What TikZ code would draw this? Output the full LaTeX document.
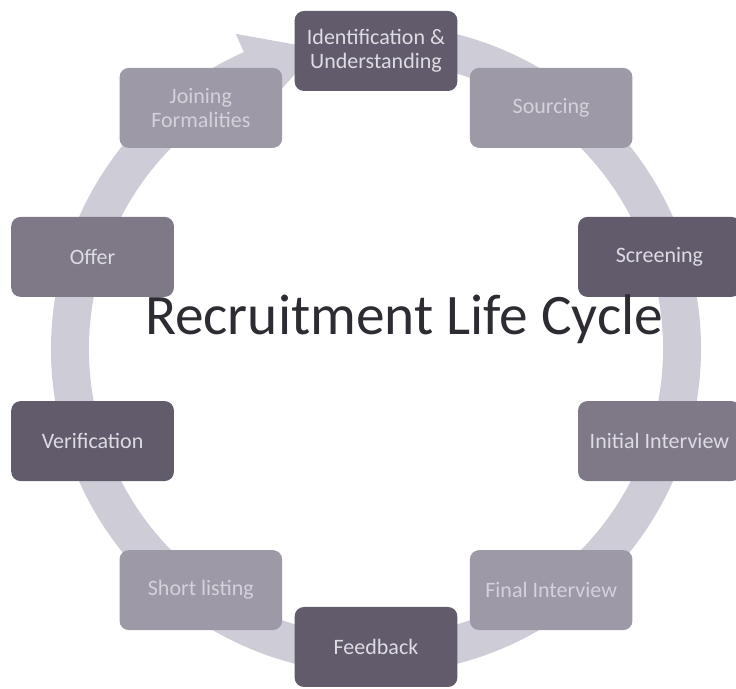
\documentclass[tikz,border=0pt]{standalone}
\usepackage{fontspec}
\setmainfont{Carlito}
\definecolor{ringgrey}{RGB}{206,204,214}
\definecolor{darkbox}{RGB}{98,91,108}
\definecolor{midbox}{RGB}{126,120,135}
\definecolor{lightbox}{RGB}{158,153,167}
\definecolor{darktext}{RGB}{222,219,226}
\definecolor{lighttext}{RGB}{212,209,217}
\definecolor{titlegrey}{RGB}{46,43,51}
\tikzset{
  phase/.style={rounded corners=7pt, minimum width=122pt, minimum height=60pt,
    align=center, inner sep=2pt, font=\fontsize{16.5}{18}\selectfont},
  darkphase/.style={phase, fill=darkbox, text=darktext},
  midphase/.style={phase, fill=midbox, text=darktext},
  lightphase/.style={phase, fill=lightbox, text=lighttext}
}

\begin{document}
\begin{tikzpicture}[x=0.75pt,y=0.75pt]
  \useasboundingbox (0,0) rectangle (736,689);
  \coordinate (hub) at (376,340);
  \begin{scope}[shift={(hub)}]
    \fill [ringgrey] (85:325) arc [start angle=85, end angle=-246, radius=325]
      -- (-246:345) -- (-259:306) -- (-246:267) -- (-246:287)
      arc [start angle=-246, end angle=85, radius=287] -- cycle;
    \node [darkphase] (ident) at (90:298) {Identification \&\\Understanding};
    \node [lightphase] (sourc) at (54:298) {Sourcing};
    \node [darkphase] (screen) at (18:298) {Screening};
    \node [midphase] (initint) at (-18:298) {Initial Interview};
    \node [lightphase] (finint) at (-54:298) {Final Interview};
    \node [darkphase] (feedb) at (-90:298) {Feedback};
    \node [lightphase] (short) at (-126:298) {Short listing};
    \node [darkphase] (verif) at (-162:298) {Verification};
    \node [midphase] (offer) at (162:298) {Offer};
    \node [lightphase] (join) at (126:298) {Joining\\Formalities};
  \end{scope}
  \node [anchor=base, text=titlegrey, font=\fontsize{43}{50}\selectfont] (title)
    at (404,354) {Recruitment Life Cycle};
\end{tikzpicture}
\end{document}
